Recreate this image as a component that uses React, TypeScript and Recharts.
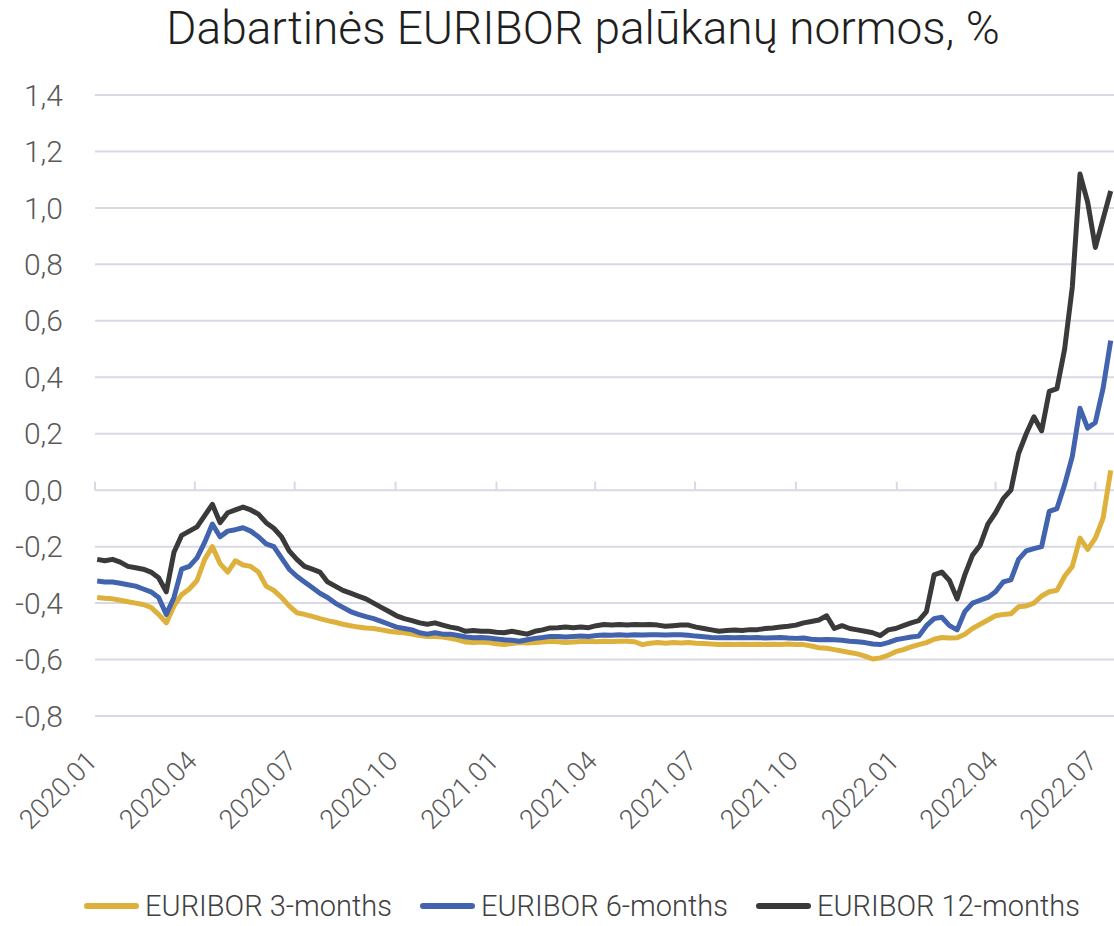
import {
  LineChart,
  Line,
  XAxis,
  YAxis,
  CartesianGrid,
  Legend,
  ReferenceLine,
} from "recharts";

// weekly observations, first one on this date
const firstWeek = "2020-01-03";

const quarterStarts = [
  "2020-01-01", "2020-04-01", "2020-07-01", "2020-10-01",
  "2021-01-01", "2021-04-01", "2021-07-01", "2021-10-01",
  "2022-01-01", "2022-04-01", "2022-07-01",
];
const tickLabels = [
  "2020.01", "2020.04", "2020.07", "2020.10",
  "2021.01", "2021.04", "2021.07", "2021.10",
  "2022.01", "2022.04", "2022.07",
];
const yTicks = [-0.8, -0.6, -0.4, -0.2, 0, 0.2, 0.4, 0.6, 0.8, 1.0, 1.2, 1.4];

const euribor3m = [
  -0.38, -0.383, -0.385, -0.39, -0.395, -0.40, -0.405, -0.415, -0.44, -0.47,
  -0.41, -0.37, -0.35, -0.32, -0.245, -0.20, -0.26, -0.29, -0.25, -0.265,
  -0.27, -0.29, -0.34, -0.355, -0.38, -0.41, -0.434, -0.44, -0.447, -0.455,
  -0.462, -0.468, -0.475, -0.48, -0.485, -0.488, -0.49, -0.495, -0.50, -0.503,
  -0.505, -0.51, -0.515, -0.518, -0.518, -0.52, -0.525, -0.53, -0.538, -0.54,
  -0.538, -0.54, -0.544, -0.547, -0.543, -0.54, -0.541, -0.54, -0.538, -0.535,
  -0.537, -0.54, -0.538, -0.536, -0.535, -0.537, -0.535, -0.536, -0.535, -0.535,
  -0.537, -0.547, -0.542, -0.54, -0.542, -0.54, -0.541, -0.54, -0.542, -0.543,
  -0.545, -0.547, -0.546, -0.547, -0.546, -0.547, -0.546, -0.547, -0.546, -0.547,
  -0.545, -0.547, -0.547, -0.552, -0.558, -0.56, -0.565, -0.57, -0.575, -0.58,
  -0.588, -0.598, -0.594, -0.585, -0.572, -0.565, -0.555, -0.547, -0.54, -0.528,
  -0.522, -0.524, -0.523, -0.51, -0.49, -0.475, -0.46, -0.445, -0.44, -0.438,
  -0.413, -0.41, -0.40, -0.375, -0.36, -0.355, -0.305, -0.27, -0.17, -0.21,
  -0.17, -0.10, 0.07,
];

const euribor6m = [
  -0.322, -0.325, -0.325, -0.33, -0.335, -0.34, -0.35, -0.36, -0.38, -0.44,
  -0.38, -0.28, -0.27, -0.24, -0.185, -0.12, -0.165, -0.145, -0.14, -0.133,
  -0.145, -0.165, -0.19, -0.20, -0.24, -0.28, -0.305, -0.325, -0.345, -0.365,
  -0.38, -0.40, -0.415, -0.43, -0.44, -0.448, -0.455, -0.465, -0.475, -0.485,
  -0.49, -0.495, -0.505, -0.51, -0.505, -0.51, -0.51, -0.515, -0.52, -0.523,
  -0.522, -0.524, -0.527, -0.53, -0.532, -0.535, -0.53, -0.525, -0.522, -0.518,
  -0.518, -0.52, -0.518, -0.517, -0.518, -0.515, -0.513, -0.514, -0.512, -0.514,
  -0.512, -0.513, -0.512, -0.512, -0.513, -0.512, -0.512, -0.514, -0.517, -0.519,
  -0.522, -0.523, -0.522, -0.523, -0.522, -0.523, -0.522, -0.524, -0.523, -0.522,
  -0.524, -0.525, -0.524, -0.528, -0.53, -0.529, -0.53, -0.532, -0.535, -0.537,
  -0.54, -0.545, -0.547, -0.54, -0.53, -0.525, -0.52, -0.517, -0.48, -0.455,
  -0.45, -0.48, -0.495, -0.43, -0.40, -0.39, -0.38, -0.36, -0.325, -0.318,
  -0.245, -0.215, -0.207, -0.20, -0.075, -0.065, 0.02, 0.12, 0.29, 0.22,
  0.24, 0.36, 0.53,
];

const euribor12m = [
  -0.245, -0.25, -0.245, -0.255, -0.27, -0.275, -0.28, -0.29, -0.31, -0.36,
  -0.22, -0.16, -0.145, -0.13, -0.09, -0.05, -0.115, -0.08, -0.07, -0.06,
  -0.07, -0.085, -0.115, -0.135, -0.165, -0.215, -0.245, -0.27, -0.28, -0.29,
  -0.325, -0.34, -0.355, -0.365, -0.375, -0.385, -0.40, -0.415, -0.43, -0.445,
  -0.455, -0.462, -0.47, -0.475, -0.47, -0.478, -0.485, -0.49, -0.50, -0.497,
  -0.50, -0.50, -0.503, -0.505, -0.50, -0.505, -0.51, -0.50, -0.495, -0.488,
  -0.487, -0.485, -0.487, -0.485, -0.487, -0.48, -0.476, -0.478, -0.476, -0.478,
  -0.476, -0.477, -0.476, -0.478, -0.482, -0.48, -0.478, -0.478, -0.485, -0.49,
  -0.495, -0.50, -0.497, -0.495, -0.497, -0.494, -0.494, -0.49, -0.488, -0.485,
  -0.482, -0.478, -0.47, -0.465, -0.46, -0.445, -0.49, -0.48, -0.49, -0.495,
  -0.50, -0.505, -0.515, -0.495, -0.49, -0.48, -0.47, -0.462, -0.43, -0.30,
  -0.29, -0.32, -0.385, -0.30, -0.23, -0.195, -0.12, -0.08, -0.03, 0.0,
  0.13, 0.20, 0.26, 0.21, 0.35, 0.36, 0.50, 0.72, 1.12, 1.02,
  0.86, 0.96, 1.06,
];

const series = [
  { key: "m3", name: "EURIBOR 3-months", color: "#DEB03C" },
  { key: "m6", name: "EURIBOR 6-months", color: "#4263AD" },
  { key: "m12", name: "EURIBOR 12-months", color: "#3A3A3A" },
];

const font = "Roboto, 'Noto Sans', sans-serif";
const gridColor = "#D9D9E6";

const origin = Date.parse(quarterStarts[0]);
const dayOf = (s: string) => Math.round((Date.parse(s) - origin) / 86400000);
const tickDays = quarterStarts.map(dayOf);
const start = dayOf(firstWeek);

const data = euribor3m.map((v, i) => ({
  day: start + i * 7,
  m3: v,
  m6: euribor6m[i],
  m12: euribor12m[i],
}));

function DateTick({ x, y, payload }: any) {
  const label = tickLabels[tickDays.indexOf(payload.value)];
  return (
    <g transform={`translate(${x - 3},${y + 40}) rotate(-45)`}>
      <text
        textAnchor="end"
        dy="0.35em"
        fill="#595959"
        fontSize={27}
        fontWeight={300}
        fontFamily={font}
      >
        {label}
      </text>
    </g>
  );
}

function LegendRow() {
  return (
    <div
      style={{
        display: "flex",
        justifyContent: "center",
        alignItems: "center",
        gap: 28,
        height: 40,
        paddingLeft: 50,
        fontFamily: font,
      }}
    >
      {series.map((s) => (
        <div key={s.key} style={{ display: "flex", alignItems: "center" }}>
          <span
            style={{
              display: "inline-block",
              width: 55,
              height: 6,
              borderRadius: 3,
              background: s.color,
              marginRight: 6,
            }}
          />
          <span style={{ fontSize: 29, fontWeight: 300, color: "#404040" }}>
            {s.name}
          </span>
        </div>
      ))}
    </div>
  );
}

export default function App() {
  return (
    <div
      style={{
        position: "absolute",
        left: 0,
        top: 0,
        width: 1114,
        height: 926,
        background: "#fff",
      }}
    >
      <div
        style={{
          position: "absolute",
          top: 1,
          left: 583,
          transform: "translateX(-50%)",
          whiteSpace: "nowrap",
          fontFamily: font,
          fontWeight: 300,
          fontSize: 46,
          color: "#1F1F1F",
        }}
      >
        Dabartinės EURIBOR palūkanų normos, %
      </div>

      <LineChart
        width={1114}
        height={926}
        data={data}
        margin={{ top: 95, right: 0, bottom: 0, left: 0 }}
      >
        <CartesianGrid
          vertical={false}
          stroke={gridColor}
          strokeWidth={2}
        />
        <XAxis
          dataKey="day"
          type="number"
          domain={[0, 929]}
          ticks={tickDays}
          interval={0}
          axisLine={false}
          tickLine={false}
          tickSize={0}
          tickMargin={0}
          height={170}
          tick={<DateTick />}
        />
        <YAxis
          domain={[-0.8, 1.4]}
          ticks={yTicks}
          width={95}
          axisLine={false}
          tickLine={false}
          tickSize={0}
          tickMargin={32}
          tickFormatter={(v: number) => v.toFixed(1).replace(".", ",")}
          tick={{
            fill: "#595959",
            fontSize: 30,
            fontWeight: 300,
            fontFamily: font,
          }}
        />
        {tickDays.map((d) => (
          <ReferenceLine
            key={d}
            segment={[
              { x: d, y: 0 },
              { x: d, y: 0.03 },
            ]}
            stroke={gridColor}
            strokeWidth={2}
          />
        ))}
        <Legend
          verticalAlign="bottom"
          content={<LegendRow />}
          wrapperStyle={{ left: 0, width: 1114 }}
        />
        {series.map((s) => (
          <Line
            key={s.key}
            dataKey={s.key}
            name={s.name}
            type="linear"
            stroke={s.color}
            strokeWidth={5}
            strokeLinejoin="round"
            dot={false}
            isAnimationActive={false}
          />
        ))}
      </LineChart>
    </div>
  );
}
